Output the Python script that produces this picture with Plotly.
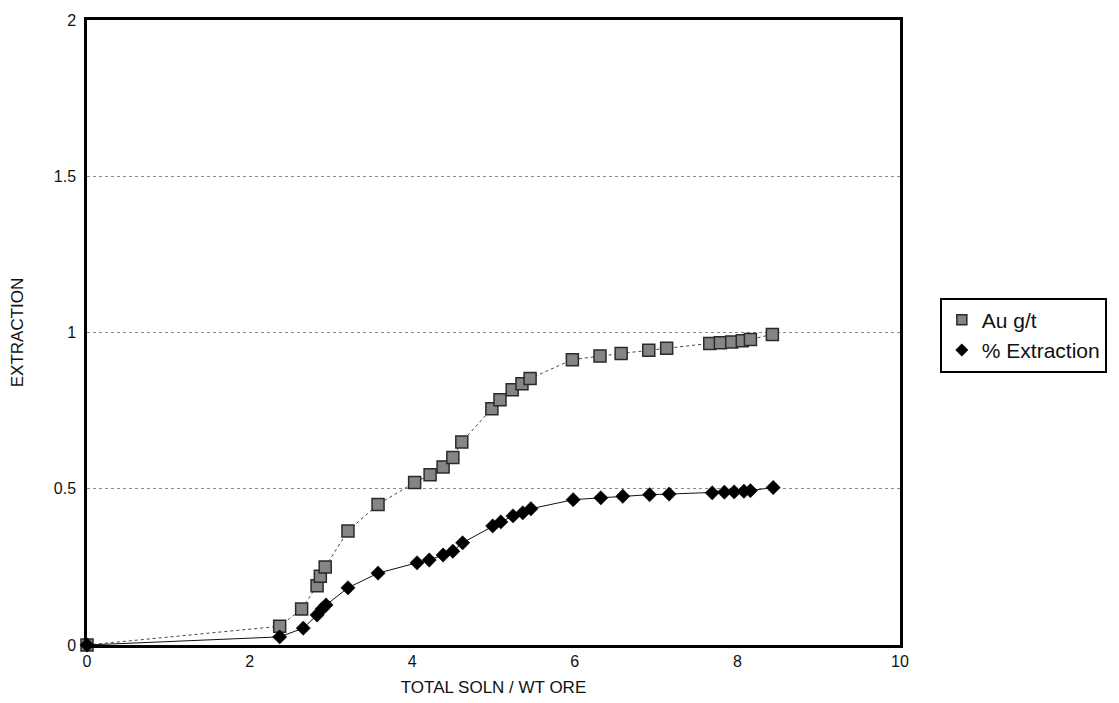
import plotly.graph_objects as go

# Au g/t series (squares)
au_x = [0, 2.37, 2.64, 2.83, 2.87, 2.93, 3.21, 3.58, 4.03, 4.22, 4.38, 4.50, 4.61,
        4.98, 5.08, 5.23, 5.35, 5.45, 5.97, 6.31, 6.57, 6.91, 7.13, 7.66, 7.79,
        7.93, 8.06, 8.16, 8.43]
au_y = [0, 0.060, 0.115, 0.19, 0.22, 0.25, 0.365, 0.45, 0.52, 0.545, 0.57, 0.60,
        0.65, 0.756, 0.785, 0.817, 0.836, 0.853, 0.913, 0.925, 0.933, 0.943, 0.950,
        0.965, 0.967, 0.970, 0.974, 0.978, 0.994]

# % Extraction series (diamonds)
ext_x = [0, 2.37, 2.66, 2.83, 2.89, 2.94, 3.21, 3.58, 4.06, 4.21, 4.38, 4.50, 4.62,
         4.99, 5.09, 5.24, 5.36, 5.46, 5.98, 6.32, 6.59, 6.92, 7.16, 7.69, 7.84,
         7.96, 8.08, 8.16, 8.44]
ext_y = [0, 0.026, 0.054, 0.096, 0.115, 0.128, 0.183, 0.23, 0.263, 0.272, 0.288,
         0.30, 0.327, 0.381, 0.394, 0.413, 0.423, 0.436, 0.465, 0.471, 0.476, 0.481,
         0.483, 0.487, 0.489, 0.490, 0.492, 0.494, 0.504]

x_ticks = [0, 2, 4, 6, 8, 10]
y_ticks = [0, 0.5, 1, 1.5, 2]
y_tick_text = ["0", "0.5", "1", "1.5", "2"]

sq_marker = dict(symbol="square", size=12, color="#858585",
                 line=dict(color="#2a2a2a", width=1.5))
di_marker = dict(symbol="diamond", size=11, color="#000000",
                 line=dict(color="#000000", width=0.5))

fig = go.Figure()
fig.add_trace(go.Scatter(
    x=au_x, y=au_y, name="Au g/t", mode="lines+markers",
    line=dict(color="#444444", width=1, dash="dot"),
    marker=sq_marker, cliponaxis=False, showlegend=False,
))
fig.add_trace(go.Scatter(
    x=ext_x, y=ext_y, name="% Extraction", mode="lines+markers",
    line=dict(color="#111111", width=1),
    marker=di_marker, cliponaxis=False, showlegend=False,
))
# legend entries (markers only, like the original legend)
fig.add_trace(go.Scatter(
    x=[None], y=[None], name="Au g/t", mode="markers",
    marker=dict(symbol="square", size=10, color="#858585",
                line=dict(color="#2a2a2a", width=1.5)),
    legendgroup="a",
))
fig.add_trace(go.Scatter(
    x=[None], y=[None], name="% Extraction", mode="markers",
    marker=dict(symbol="diamond", size=10, color="#000"),
    legendgroup="b",
))

font_family = "Liberation Sans, Arial, sans-serif"
fig.update_layout(
    width=1119, height=703,
    margin=dict(l=79, r=227, t=12, b=66, autoexpand=False),
    paper_bgcolor="white", plot_bgcolor="white",
    font=dict(family=font_family, size=16, color="#111"),
    showlegend=True,
    legend=dict(
        x=1.049, y=0.556, xanchor="left", yanchor="top",
        bordercolor="#000", borderwidth=2,
        font=dict(size=21, color="#111"),
        bgcolor="white", tracegroupgap=0,
        itemsizing="trace", itemwidth=30,
    ),
)
fig.update_xaxes(
    range=[0, 10], tickvals=x_ticks, ticktext=[str(v) for v in x_ticks],
    showgrid=False, zeroline=False,
    showline=True, linewidth=2.5, linecolor="#000", mirror=True,
    ticks="", ticklabelstandoff=0, tickfont=dict(size=16),
    title=dict(text="TOTAL SOLN / WT ORE", font=dict(size=17), standoff=13),
)
fig.update_yaxes(
    range=[0, 2], tickvals=y_ticks, ticktext=y_tick_text,
    showgrid=True, gridcolor="#8a8a8a", gridwidth=1, griddash="dot",
    zeroline=False,
    showline=True, linewidth=2.5, linecolor="#000", mirror=True,
    ticks="", ticklabelstandoff=5, tickfont=dict(size=16),
    title=dict(text="EXTRACTION", font=dict(size=17), standoff=26),
)

fig.write_html("out.html")
